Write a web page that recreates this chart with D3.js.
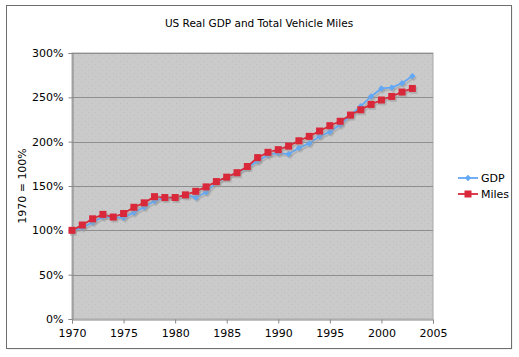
<!DOCTYPE html>
<html><head><meta charset="utf-8">
<script src="https://cdn.jsdelivr.net/npm/d3@7"></script>
<style>body{margin:0;background:#fff}svg{display:block}text{font-family:"DejaVu Sans",Verdana,sans-serif;fill:#000}</style>
</head><body>
<svg id="c" width="519" height="357"></svg>
<script>
const years = d3.range(1970, 2004);
const gdp = [100,103,109,115,115,114,120,126,133,137,137,140,137,143,154,160,165,171,178,185,187,186,193,198,206,211,219,230,240,251,260,261,266,274];
const miles = [100,106,113,118,115,119,126,131,138,137,137,140,144,149,155,160,165,172,182,188,191,195,201,206,212,218,223,230,236,242,247,251,256,260];
const xTicks = [1970,1975,1980,1985,1990,1995,2000,2005];
const yTicks = [0,50,100,150,200,250,300];
const seriesNames = ["GDP","Miles"];

const svg = d3.select("#c");
const L=72, R=433, T=53, B=319;
const x = d3.scaleLinear().domain([1970,2005]).range([L,R]);
const y = d3.scaleLinear().domain([0,300]).range([B,T]);

// outer frame
svg.append("rect").attr("x",7.5).attr("y",6.5).attr("width",505).attr("height",343).attr("fill","#e6e6e6");
svg.append("rect").attr("x",6.5).attr("y",5.5).attr("width",505).attr("height",343).attr("fill","#fff").attr("stroke","#6e6e6e");

// pattern for plot bg
const defs = svg.append("defs");
const pat = defs.append("pattern").attr("id","dots").attr("patternUnits","userSpaceOnUse").attr("width",7).attr("height",6);
pat.append("rect").attr("width",7).attr("height",6).attr("fill","#cacaca");
pat.append("rect").attr("x",1).attr("y",1).attr("width",1).attr("height",1).attr("fill","#bcbcc4");
pat.append("rect").attr("x",4).attr("y",4).attr("width",1).attr("height",1).attr("fill","#bfbfc6");

svg.append("rect").attr("x",L).attr("y",T).attr("width",R-L).attr("height",B-T).attr("fill","url(#dots)").attr("stroke","#a8a8a8");

// gridlines
svg.append("g").selectAll("line").data(yTicks.filter(d=>d>0)).join("line")
  .attr("x1",L).attr("x2",R).attr("y1",d=>Math.round(y(d))+0.5).attr("y2",d=>Math.round(y(d))+0.5)
  .attr("stroke","#8e8e8e").attr("stroke-width",1);

// axes
const yAxis = d3.axisLeft(y).tickValues(yTicks).tickFormat(d=>d+"%").tickSize(4).tickPadding(5);
const gy = svg.append("g").attr("transform",`translate(${L+0.5},0)`).call(yAxis);
gy.selectAll("text").style("font-size","11px");
gy.selectAll("path,line").attr("stroke","#888");
const xAxis = d3.axisBottom(x).tickValues(xTicks).tickFormat(d3.format("d")).tickSize(4).tickPadding(6);
const gx = svg.append("g").attr("transform",`translate(0,${B+0.5})`).call(xAxis);
gx.selectAll("text").style("font-size","11px");
gx.selectAll("path,line").attr("stroke","#888");

// title
svg.append("text").attr("x",259).attr("y",27).attr("text-anchor","middle").style("font-size","10.5px").text("US Real GDP and Total Vehicle Miles");
svg.append("text").attr("transform",`translate(26,${(T+B)/2}) rotate(-90)`).attr("text-anchor","middle").style("font-size","11px").text("1970 = 100%");

const colors = ["#62a8f5","#d8283a"];
const line = d3.line().x((d,i)=>x(years[i])).y(d=>y(d));
const data = [gdp, miles];

// shadows
data.forEach((s,k)=>{
  svg.append("path").datum(s).attr("d",line).attr("fill","none").attr("stroke","#9a9a9a").attr("stroke-width",1.8).attr("transform","translate(1.5,2)").attr("opacity",0.5);
});
// GDP
svg.append("path").datum(gdp).attr("d",line).attr("fill","none").attr("stroke",colors[0]).attr("stroke-width",1.8);
const diamond = d3.symbol().type(d3.symbolSquare).size(20);
svg.append("g").selectAll("path").data(gdp).join("path")
  .attr("transform",(d,i)=>`translate(${x(years[i])+1.5},${y(d)+2}) rotate(45)`).attr("d",diamond).attr("fill","#999").attr("opacity",0.5);
svg.append("g").selectAll("path").data(gdp).join("path")
  .attr("transform",(d,i)=>`translate(${x(years[i])},${y(d)}) rotate(45)`).attr("d",diamond).attr("fill",colors[0]);
// Miles
svg.append("path").datum(miles).attr("d",line).attr("fill","none").attr("stroke",colors[1]).attr("stroke-width",1.8);
svg.append("g").selectAll("rect").data(miles).join("rect")
  .attr("x",(d,i)=>x(years[i])-3.5+1.5).attr("y",d=>y(d)-3.5+2).attr("width",7).attr("height",7).attr("fill","#999").attr("opacity",0.5);
svg.append("g").selectAll("rect").data(miles).join("rect")
  .attr("x",(d,i)=>x(years[i])-3.5).attr("y",d=>y(d)-3.5).attr("width",7).attr("height",7).attr("fill",colors[1]);

// legend
const lg = svg.append("g");
seriesNames.forEach((n,k)=>{
  const yy = 178 + k*16;
  lg.append("line").attr("x1",458).attr("x2",478).attr("y1",yy).attr("y2",yy).attr("stroke",colors[k]).attr("stroke-width",1.8);
  if(k===0) lg.append("path").attr("transform",`translate(468,${yy}) rotate(45)`).attr("d",diamond).attr("fill",colors[0]);
  else lg.append("rect").attr("x",464.5).attr("y",yy-3.5).attr("width",7).attr("height",7).attr("fill",colors[1]);
  lg.append("text").attr("x",481).attr("y",yy+4).style("font-size","11px").text(n);
});
</script>
</body></html>
